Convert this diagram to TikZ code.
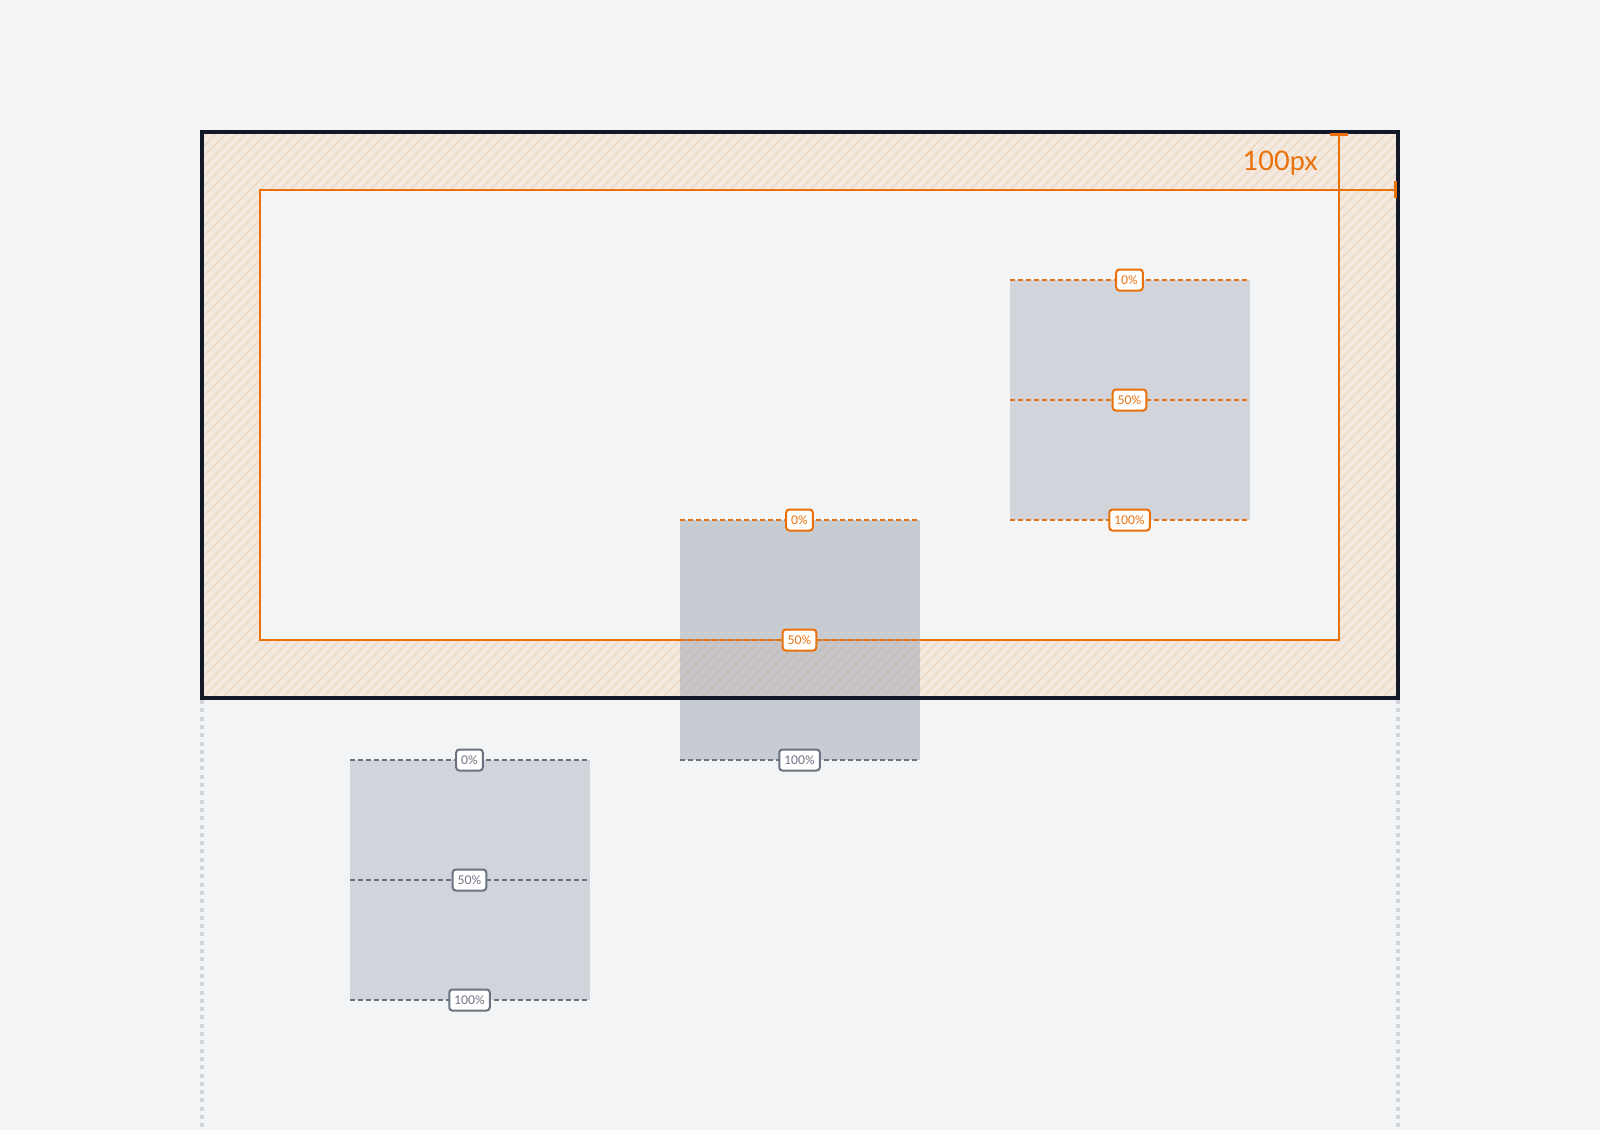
\documentclass[tikz,border=0pt]{standalone}
\usepackage{fontspec}
\setmainfont{Lato}
\usetikzlibrary{positioning}
\definecolor{bgc}{HTML}{F3F4F6}
\definecolor{org}{HTML}{EA700A}
\definecolor{ink}{HTML}{111827}
\definecolor{slate}{HTML}{6B7280}
\definecolor{boxc}{HTML}{D1D5DB}
\definecolor{boxd}{HTML}{9CA3AF}
\definecolor{tint}{HTML}{F3E9E0}
\definecolor{hatch}{HTML}{EFDAC3}
\definecolor{rail}{HTML}{D1D5DB}
\begin{document}
\begin{tikzpicture} [x = 1pt, y = -1pt,
  tag/.style = {draw, solid, fill = white, rounded corners = 3pt, line width = 2pt, inner xsep = 5pt, inner ysep = 0pt, minimum height = 21pt, font = \fontsize{12}{12}\selectfont},
  otag/.style = {tag, draw = org, text = org},
  gtag/.style = {tag, draw = slate, text = slate},
  oline/.style = {org, line width = 2pt, dash pattern = on 5pt off 3pt},
  gline/.style = {slate, line width = 2pt, dash pattern = on 5pt off 3pt},
  railline/.style = {rail, line width = 4pt, dash pattern = on 4pt off 4.3pt}]
\useasboundingbox [fill = bgc] (0,0) rectangle (1600,1130);
\draw [railline] (202,700) -- (202,1130);
\draw [railline] (1398,700) -- (1398,1130);
\fill [tint] (200,130) rectangle (1400,700);
\begin{scope}
\clip (200,130) rectangle (1400,700);
\foreach \i in {-370,-360,...,1400}
  \draw [hatch, line width = 1.5pt] (\i,700) -- ++(570,-570);
\end{scope}
\fill [bgc] (260,190) rectangle (1339,640);
\draw [org, line width = 2pt] (260,190) rectangle (1339,640);
\fill [boxc] (1010,280) rectangle (1250,520);
\fill [boxc] (350,760) rectangle (590,1000);
\fill [boxd, fill opacity = 0.5] (680,520) rectangle (920,760);
\draw [ink, line width = 4pt] (202,132) rectangle (1398,698);
\draw [oline] (1010,280) -- node[otag] (t0) {0\%} (1249,280);
\draw [oline] (1010,400) -- node[otag] (t50) {50\%} (1249,400);
\draw [oline] (1010,520) -- node[otag] (t100) {100\%} (1249,520);
\draw [oline] (680,520) -- node[otag] (m0) {0\%} (919,520);
\draw [oline] (680,640) -- node[otag] (m50) {50\%} (919,640);
\draw [gline] (680,760) -- node[gtag] (m100) {100\%} (919,760);
\draw [gline] (350,760) -- node[gtag] (b0) {0\%} (589,760);
\draw [gline] (350,880) -- node[gtag] (b50) {50\%} (589,880);
\draw [gline] (350,1000) -- node[gtag] (b100) {100\%} (589,1000);
\coordinate (pt) at (1339,134);
\coordinate (pc) at (1339,190);
\coordinate (pr) at (1395,190);
\draw [org, line width = 2pt] (pt) -- (pc) -- (pr);
\draw [org, line width = 3pt] ([xshift = -9pt]pt) -- ([xshift = 9pt]pt);
\draw [org, line width = 3pt] ([yshift = -8pt]pr) -- ([yshift = 9pt]pr);
\node [anchor = east, text = org, font = \fontsize{27}{27}\selectfont, inner sep = 0pt] (pad) at (1318,163) {100px};
\end{tikzpicture}
\end{document}
